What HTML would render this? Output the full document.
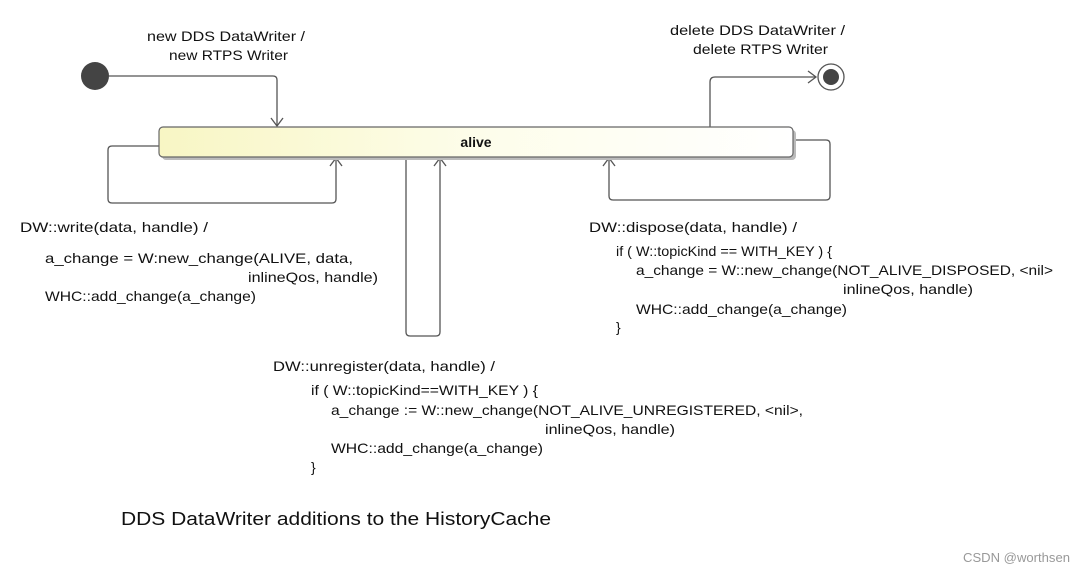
<!DOCTYPE html>
<html><head><meta charset="utf-8"><style>
html,body{margin:0;padding:0;background:#fff;width:1084px;height:572px;overflow:hidden}
svg text{font-family:"Liberation Sans",sans-serif;fill:#111}
</style></head><body>
<svg width="1084" height="572" viewBox="0 0 1084 572" xmlns="http://www.w3.org/2000/svg">
<defs>
<linearGradient id="g" x1="0" x2="1" y1="0" y2="0">
<stop offset="0" stop-color="#f8f6c4"/><stop offset="0.5" stop-color="#fdfdea"/><stop offset="1" stop-color="#ffffff"/>
</linearGradient>
</defs>
<g fill="none" stroke="#555" stroke-width="1.3">
<!-- initial -->
<path d="M109 76 H273 Q277 76 277 80 V126"/>
<path d="M271 118 L277 126 L283 118"/>
<!-- final -->
<path d="M710 127 V82 Q710 77 715 77 H816"/>
<path d="M808 71 L816 77 L808 83"/>
<!-- left loop -->
<path d="M159 146 H112 Q108 146 108 150 V199 Q108 203 112 203 H332 Q336 203 336 199 V158"/>
<path d="M330 166 L336 158 L342 166"/>
<!-- middle loop -->
<path d="M406 158 V332 Q406 336 410 336 H436 Q440 336 440 332 V158"/>
<path d="M434 166 L440 158 L446 166"/>
<!-- right loop -->
<path d="M793 140 H826 Q830 140 830 144 V196 Q830 200 826 200 H613 Q609 200 609 196 V158"/>
<path d="M603 166 L609 158 L615 166"/>
</g>
<rect x="162" y="130" width="634" height="30" rx="4" fill="#bbb"/>
<rect x="159" y="127" width="634" height="30" rx="4" fill="url(#g)" stroke="#666" stroke-width="1.2"/>
<text x="476" y="147" font-size="14" font-weight="bold" text-anchor="middle">alive</text>
<circle cx="95" cy="76" r="14" fill="#444"/>
<circle cx="831" cy="77" r="13" fill="#fff" stroke="#555" stroke-width="1.3"/>
<circle cx="831" cy="77" r="8" fill="#444"/>
<g font-size="14">
<text x="147" y="41" textLength="158" lengthAdjust="spacingAndGlyphs">new DDS DataWriter  /</text>
<text x="169" y="60" textLength="119" lengthAdjust="spacingAndGlyphs">new RTPS Writer</text>
<text x="670" y="35" textLength="175" lengthAdjust="spacingAndGlyphs">delete DDS DataWriter /</text>
<text x="693" y="54" textLength="135" lengthAdjust="spacingAndGlyphs">delete RTPS Writer</text>

<text x="20" y="232" textLength="188" lengthAdjust="spacingAndGlyphs">DW::write(data, handle) /</text>
<text x="45" y="263" textLength="308" lengthAdjust="spacingAndGlyphs">a_change = W:new_change(ALIVE, data,</text>
<text x="248" y="282" textLength="130" lengthAdjust="spacingAndGlyphs">inlineQos, handle)</text>
<text x="45" y="301" textLength="211" lengthAdjust="spacingAndGlyphs">WHC::add_change(a_change)</text>

<text x="589" y="232" textLength="208" lengthAdjust="spacingAndGlyphs">DW::dispose(data, handle) /</text>
<text x="616" y="256" textLength="216" lengthAdjust="spacingAndGlyphs">if ( W::topicKind == WITH_KEY ) {</text>
<text x="636" y="275" textLength="417" lengthAdjust="spacingAndGlyphs">a_change = W::new_change(NOT_ALIVE_DISPOSED, &lt;nil&gt;</text>
<text x="843" y="294" textLength="130" lengthAdjust="spacingAndGlyphs">inlineQos, handle)</text>
<text x="636" y="314" textLength="211" lengthAdjust="spacingAndGlyphs">WHC::add_change(a_change)</text>
<text x="616" y="332">}</text>

<text x="273" y="371" textLength="222" lengthAdjust="spacingAndGlyphs">DW::unregister(data, handle) /</text>
<text x="311" y="395" textLength="227" lengthAdjust="spacingAndGlyphs">if ( W::topicKind==WITH_KEY ) {</text>
<text x="331" y="415" textLength="472" lengthAdjust="spacingAndGlyphs">a_change := W::new_change(NOT_ALIVE_UNREGISTERED, &lt;nil&gt;,</text>
<text x="545" y="434" textLength="130" lengthAdjust="spacingAndGlyphs">inlineQos, handle)</text>
<text x="331" y="453" textLength="212" lengthAdjust="spacingAndGlyphs">WHC::add_change(a_change)</text>
<text x="311" y="472">}</text>
</g>
<text x="121" y="525" font-size="18" textLength="430" lengthAdjust="spacingAndGlyphs">DDS DataWriter additions to the HistoryCache</text>
<text x="963" y="562" font-size="13" fill="#999" style="fill:#999" textLength="107" lengthAdjust="spacingAndGlyphs">CSDN @worthsen</text>
</svg>
</body></html>
